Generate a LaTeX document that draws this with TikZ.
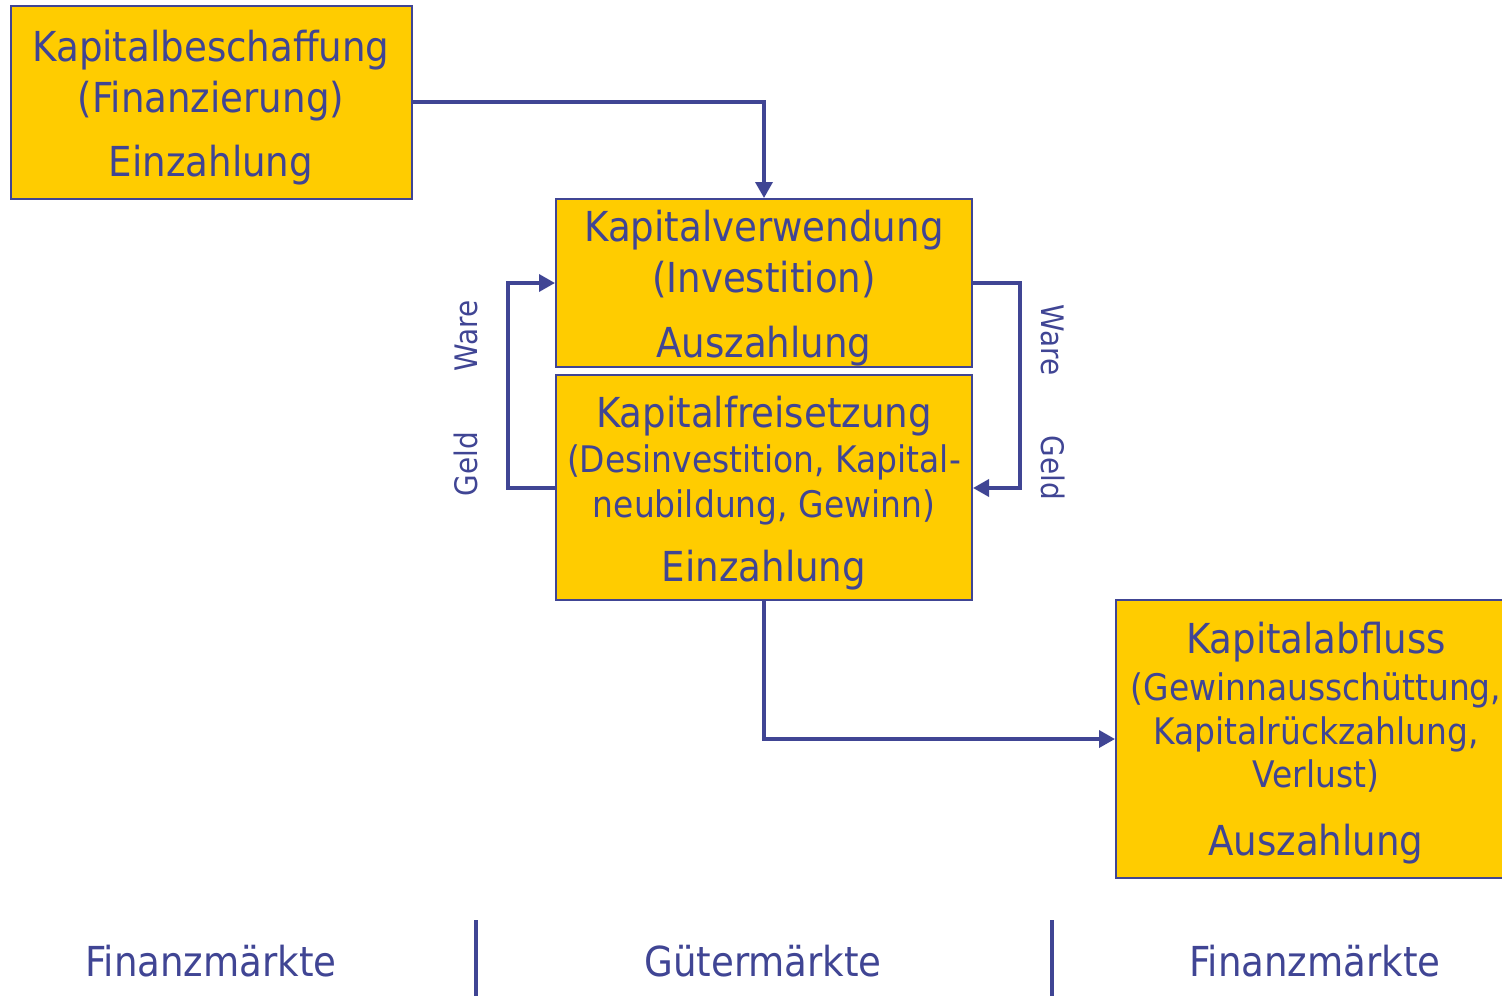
\documentclass[tikz,border=0pt]{standalone}
\usepackage{fontspec}
\setmainfont{DejaVu Sans Condensed}
\usetikzlibrary{arrows.meta}
\definecolor{ink}{RGB}{64,69,148}
\definecolor{gold}{RGB}{255,204,0}
\tikzset{
  box/.style={draw=ink, line width=2pt, fill=gold, inner sep=0pt},
  big/.style={text=ink, anchor=base, inner sep=0pt, font=\fontsize{41.3}{48}\selectfont},
  small/.style={text=ink, anchor=base, inner sep=0pt, font=\fontsize{36.6}{44}\selectfont},
  side/.style={text=ink, anchor=base, inner sep=0pt, font=\fontsize{31}{36}\selectfont},
  flow/.style={draw=ink, line width=3.5pt, -{Triangle[length=16pt,width=17pt]}},
  divider/.style={draw=ink, line width=4pt},
}
\begin{document}
\begin{tikzpicture}[x=1pt, y=-1pt]
\useasboundingbox (0,0) rectangle (1502,996);

% boxes
\node[box, minimum width=401, minimum height=193] (kb) at (211.5,102.5) {};
\node[box, minimum width=416, minimum height=168] (kv) at (764,283) {};
\node[box, minimum width=416, minimum height=225] (kf) at (764,487.5) {};
\node[box, minimum width=400, minimum height=278] (ka) at (1316,739) {};

% box texts
\node[big]   (kb1) at (211,61)  {Kapitalbeschaffung};
\node[big]   (kb2) at (211,112) {(Finanzierung)};
\node[big]   (kb3) at (211,176) {Einzahlung};

\node[big]   (kv1) at (764,241) {Kapitalverwendung};
\node[big]   (kv2) at (764,292) {(Investition)};
\node[big]   (kv3) at (764,357) {Auszahlung};

\node[big]   (kf1) at (764,427) {Kapitalfreisetzung};
\node[small] (kf2) at (764,472) {(Desinvestition, Kapital-};
\node[small] (kf3) at (764,517) {neubildung, Gewinn)};
\node[big]   (kf4) at (764,581) {Einzahlung};

\node[big]   (ka1) at (1316,653) {Kapitalabfluss};
\node[small] (ka2) at (1316,700) {(Gewinnausschüttung,};
\node[small] (ka3) at (1316,744) {Kapitalrückzahlung,};
\node[small] (ka4) at (1316,787) {Verlust)};
\node[big]   (ka5) at (1316,855) {Auszahlung};

% flow labels
\node[side, rotate=90]  (lw) at (477,336) {Ware};
\node[side, rotate=90]  (lg) at (477,464) {Geld};
\node[side, rotate=-90] (rw) at (1041,340) {Ware};
\node[side, rotate=-90] (rg) at (1041,468) {Geld};

% connectors
\coordinate (kbout) at (kb.east |- 0,102);
\draw[flow] (kbout) -| (kv.north);
\draw[flow] (kf.west |- 0,488) -- (508,488) |- (kv.west |- 0,283);
\draw[flow] (kv.east |- 0,283) -- (1020,283) |- (kf.east |- 0,488);
\draw[flow] (kf.south) |- (ka.west);

% market labels and dividers
\node[big] (m1) at (211,976)  {Finanzmärkte};
\node[big] (m2) at (763,976)  {Gütermärkte};
\node[big] (m3) at (1315,976) {Finanzmärkte};
\coordinate (d1a) at (476,920); \coordinate (d1b) at (476,996);
\coordinate (d2a) at (1052,920); \coordinate (d2b) at (1052,996);
\draw[divider] (d1a) -- (d1b);
\draw[divider] (d2a) -- (d2b);
\end{tikzpicture}
\end{document}
